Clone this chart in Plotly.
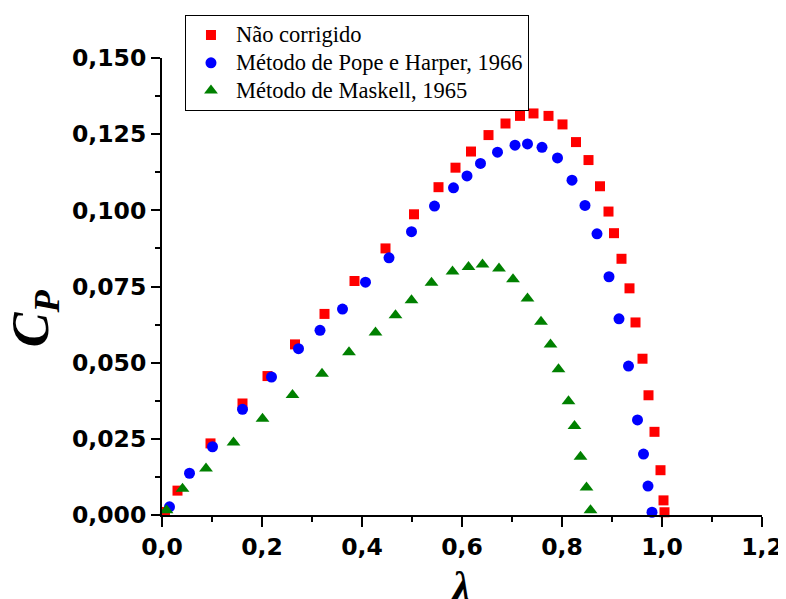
import plotly.graph_objects as go

# Não corrigido
x_nc = [0.006, 0.031, 0.097, 0.161, 0.211, 0.266, 0.325, 0.385, 0.447, 0.504, 0.553, 0.587,
        0.618, 0.653, 0.687, 0.716, 0.743, 0.773, 0.801, 0.828, 0.853, 0.876, 0.893, 0.904,
        0.919, 0.935, 0.947, 0.961, 0.973, 0.985, 0.997, 1.003, 1.005]
y_nc = [0.001, 0.0080, 0.0235, 0.0366, 0.0456, 0.0560, 0.0660, 0.0768, 0.0875, 0.0987, 0.1076, 0.1140,
        0.1193, 0.1247, 0.1285, 0.1310, 0.1318, 0.1310, 0.1282, 0.1224, 0.1165, 0.1079, 0.0996, 0.0925,
        0.0841, 0.0744, 0.0632, 0.0513, 0.0393, 0.0273, 0.0147, 0.0048, 0.0009]

# Método de Pope e Harper, 1966
x_ph = [0.015, 0.055, 0.101, 0.161, 0.219, 0.273, 0.316, 0.361, 0.407, 0.454, 0.499, 0.545,
        0.583, 0.610, 0.637, 0.671, 0.706, 0.731, 0.760, 0.791, 0.820, 0.846, 0.870, 0.894,
        0.914, 0.933, 0.951, 0.963, 0.972, 0.980]
y_ph = [0.0027, 0.0137, 0.0224, 0.0347, 0.0453, 0.0546, 0.0606, 0.0676, 0.0764, 0.0844, 0.0930, 0.1014,
        0.1074, 0.1113, 0.1154, 0.1191, 0.1214, 0.1218, 0.1207, 0.1172, 0.1099, 0.1016, 0.0923, 0.0782,
        0.0644, 0.0489, 0.0312, 0.0200, 0.0095, 0.0009]

# Método de Maskell, 1965
x_mk = [0.009, 0.041, 0.088, 0.143, 0.201, 0.261, 0.320, 0.374, 0.427, 0.467, 0.499, 0.539,
        0.581, 0.613, 0.641, 0.674, 0.702, 0.731, 0.758, 0.777, 0.793, 0.813, 0.825, 0.837,
        0.849, 0.857]
y_mk = [0.0016, 0.0086, 0.0153, 0.0238, 0.0316, 0.0394, 0.0464, 0.0534, 0.0599, 0.0656, 0.0705, 0.0762,
        0.0799, 0.0814, 0.0822, 0.0809, 0.0774, 0.0711, 0.0634, 0.0560, 0.0478, 0.0373, 0.0292, 0.0191,
        0.0090, 0.0016]

names = ["Não corrigido", "Método de Pope e Harper, 1966", "Método de Maskell, 1965"]


def legend_label(s):
    return '<span style="font-size:22.5px">' + s + "</span>"


fig = go.Figure()
fig.add_trace(go.Scatter(x=x_nc, y=y_nc, mode="markers", name=legend_label(names[0]), cliponaxis=False,
                         marker=dict(symbol="square", size=10, color="#ff0000")))
fig.add_trace(go.Scatter(x=x_ph, y=y_ph, mode="markers", name=legend_label(names[1]), cliponaxis=False,
                         marker=dict(symbol="circle", size=11, color="#0000ff")))
fig.add_trace(go.Scatter(x=x_mk, y=y_mk, mode="markers", name=legend_label(names[2]), cliponaxis=False,
                         marker=dict(symbol="triangle-up", size=12, color="#008000")))

tickfont = dict(family="DejaVu Sans", size=23.5, color="black", weight="bold")

# the page body adds an 8px margin, so the figure is made 8px smaller and the margins shifted
fig.update_layout(
    width=778, height=591,
    margin=dict(l=154, r=24, t=50, b=84, autoexpand=False),
    paper_bgcolor="white", plot_bgcolor="white",
    separators=",.",
    showlegend=True,
    legend=dict(x=0.0383, y=1.0936, xanchor="left", yanchor="top",
                bordercolor="black", borderwidth=1, itemwidth=40,
                font=dict(family="Liberation Serif", size=19, color="black"),
                bgcolor="white", tracegroupgap=0),
    xaxis=dict(range=[0, 1.2], dtick=0.2, tick0=0, tickformat=".1f", automargin=False,
               showgrid=False, zeroline=False, showline=True, linecolor="black", linewidth=2,
               ticks="outside", ticklen=10, tickwidth=2, tickcolor="black",
               tickfont=tickfont,
               minor=dict(dtick=0.1, tick0=0, ticks="outside", ticklen=5, tickwidth=2, tickcolor="black")),
    yaxis=dict(range=[0, 0.150], dtick=0.025, tick0=0, tickformat=".3f", automargin=False,
               showgrid=False, zeroline=False, showline=True, linecolor="black", linewidth=2,
               ticks="outside", ticklen=9, tickwidth=2, tickcolor="black",
               tickfont=tickfont,
               minor=dict(dtick=0.0125, tick0=0, ticks="outside", ticklen=5, tickwidth=2, tickcolor="black")),
    annotations=[
        dict(text="<b><i>C</i></b><sub><b><i>P</i></b></sub>", xref="paper", yref="paper",
             x=-0.212, y=0.43, textangle=-90, showarrow=False,
             font=dict(family="Liberation Serif", size=52, color="black"),
             xanchor="center", yanchor="middle"),
        dict(text="<b><i>λ</i></b>", xref="paper", yref="paper",
             x=0.4967, y=-0.157, showarrow=False,
             font=dict(family="Liberation Serif", size=42, color="black"),
             xanchor="center", yanchor="middle"),
    ],
)

fig.write_html("out.html")
